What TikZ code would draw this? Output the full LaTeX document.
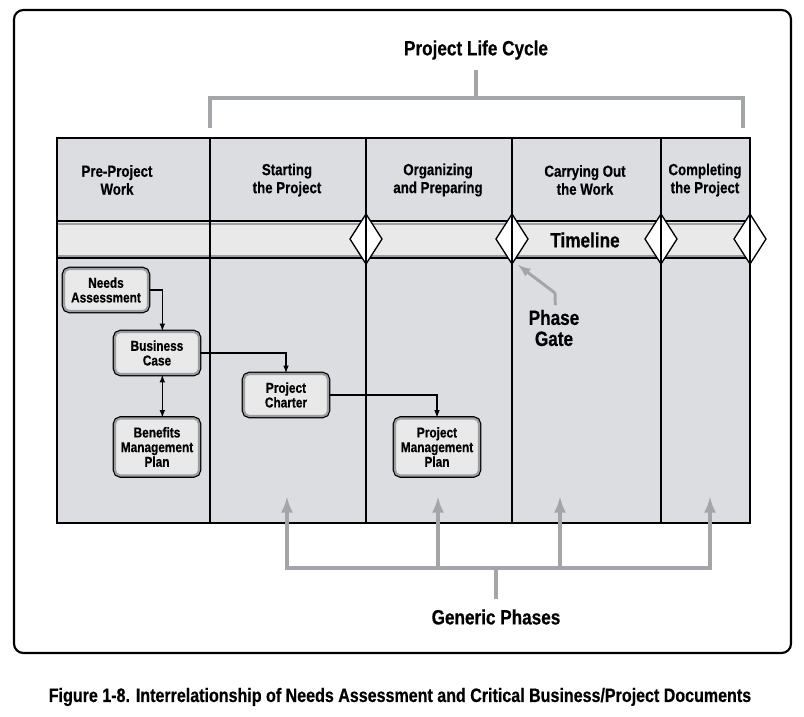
\documentclass[tikz,border=0pt]{standalone}
\usepackage{fontspec}
\setmainfont{Liberation Sans}[FakeStretch=0.83,BoldFeatures={FakeBold=0.5}]
\usetikzlibrary{arrows}
\definecolor{cellgray}{HTML}{DCDDE0}
\definecolor{bandgray}{HTML}{E9E9EA}
\definecolor{boxfill}{HTML}{E9E9EA}
\definecolor{edgegray}{HTML}{9C9EA1}
\definecolor{linegray}{HTML}{A3A5A8}
\tikzset{
	docbox/.style={rounded corners=4pt,fill=boxfill,draw=edgegray,line width=1.6pt,preaction={draw=black,line width=3.4pt},minimum width=63pt,align=center,inner sep=1pt,font=\bfseries\fontsize{10.7}{11}\selectfont},
	headtext/.style={align=center,font=\bfseries\fontsize{12}{13.5}\selectfont},
	bigtext/.style={align=center,font=\bfseries\fontsize{15.5}{15.75}\selectfont},
	grayline/.style={draw=linegray,line width=3pt},
	flow/.style={line width=0.9pt}
}
\begin{document}
\begin{tikzpicture}[x=0.75pt,y=-0.75pt,>=latex]
			\useasboundingbox (0,0) rectangle (804,717);
			\draw[line width=1.6pt,rounded corners=7pt] (14,10) rectangle (791,653);
			\fill[cellgray] (57,138) rectangle (750,523);
			\fill[bandgray] (57,221) rectangle (750,258);
			\draw[edgegray,line width=1.5pt] (57,223.5) -- (750,223.5) (57,255.5) -- (750,255.5);
			\draw[line width=1pt] (57,221) -- (750,221) (57,258) -- (750,258);
			\foreach \x in {366,512,661,750}
			\draw[fill=white,line width=1pt] (\x-16,239) -- (\x,214) -- (\x+16,239) -- (\x,264) -- cycle;
			\foreach \x in {210,366,512,661}
			\draw[line width=1pt] (\x,138) -- (\x,523);
			\draw[line width=1.6pt] (57,138) rectangle (750,523);
			\foreach \x/\n/\t in {117/prework/Pre-Project\\Work, 287/starting/Starting\\the Project, 438/organizing/Organizing\\and Preparing, 585/carrying/Carrying Out\\the Work, 705/completing/Completing\\the Project}
			\node[headtext] (\n) at (\x,180) {\t};
			\node[bigtext] (timeline) at (585,240) {Timeline};
			\node[docbox,minimum height=31.5pt] (needs) at (106,290) {Needs\\Assessment};
			\node[docbox,minimum height=31.5pt] (bcase) at (157,353) {Business\\Case};
			\node[docbox,minimum height=42.75pt] (benefits) at (157,447) {Benefits\\Management\\Plan};
			\node[docbox,minimum height=31.5pt] (charter) at (286,395) {Project\\Charter};
			\node[docbox,minimum height=42.75pt] (pmp) at (437,447) {Project\\Management\\Plan};
			\draw[flow,->] (needs.east) -| ([xshift=4pt]bcase.north);
			\draw[flow,->] (bcase.east) -| (charter.north);
			\draw[flow,->] (charter.east) -| (pmp.north);
			\draw[flow,<->] ([xshift=4pt]bcase.south) -- ([xshift=4pt]benefits.north);
			\node[bigtext] (lifecycle) at (476,50) {Project Life Cycle};
			\draw[grayline] (210,128) -- (210,98) -- (743,98) -- (743,128);
			\draw[grayline,shorten <=4pt] (lifecycle.south) -- (476,98);
			\node[bigtext] (gate) at (554,328) {Phase\\Gate};
			\draw[grayline,line width=2.2pt,->] ([xshift=1pt]gate.north) -- (555,293) -- (518,265);
			\node[bigtext] (generic) at (496,617) {Generic Phases};
			\draw[grayline,shorten <=4pt] (generic.north) -- (496,568);
			\draw[grayline,line cap=rect] (287,568) -- (710,568);
			\foreach \x in {287,438,560,710}
			\draw[grayline,->] (\x,568) -- (\x,497);
			\node[font=\bfseries\fontsize{14.5}{16}\selectfont] (caption) at (400,697) {Figure 1-8. Interrelationship of Needs Assessment and Critical Business/Project Documents};
		\end{tikzpicture}
\end{document}
